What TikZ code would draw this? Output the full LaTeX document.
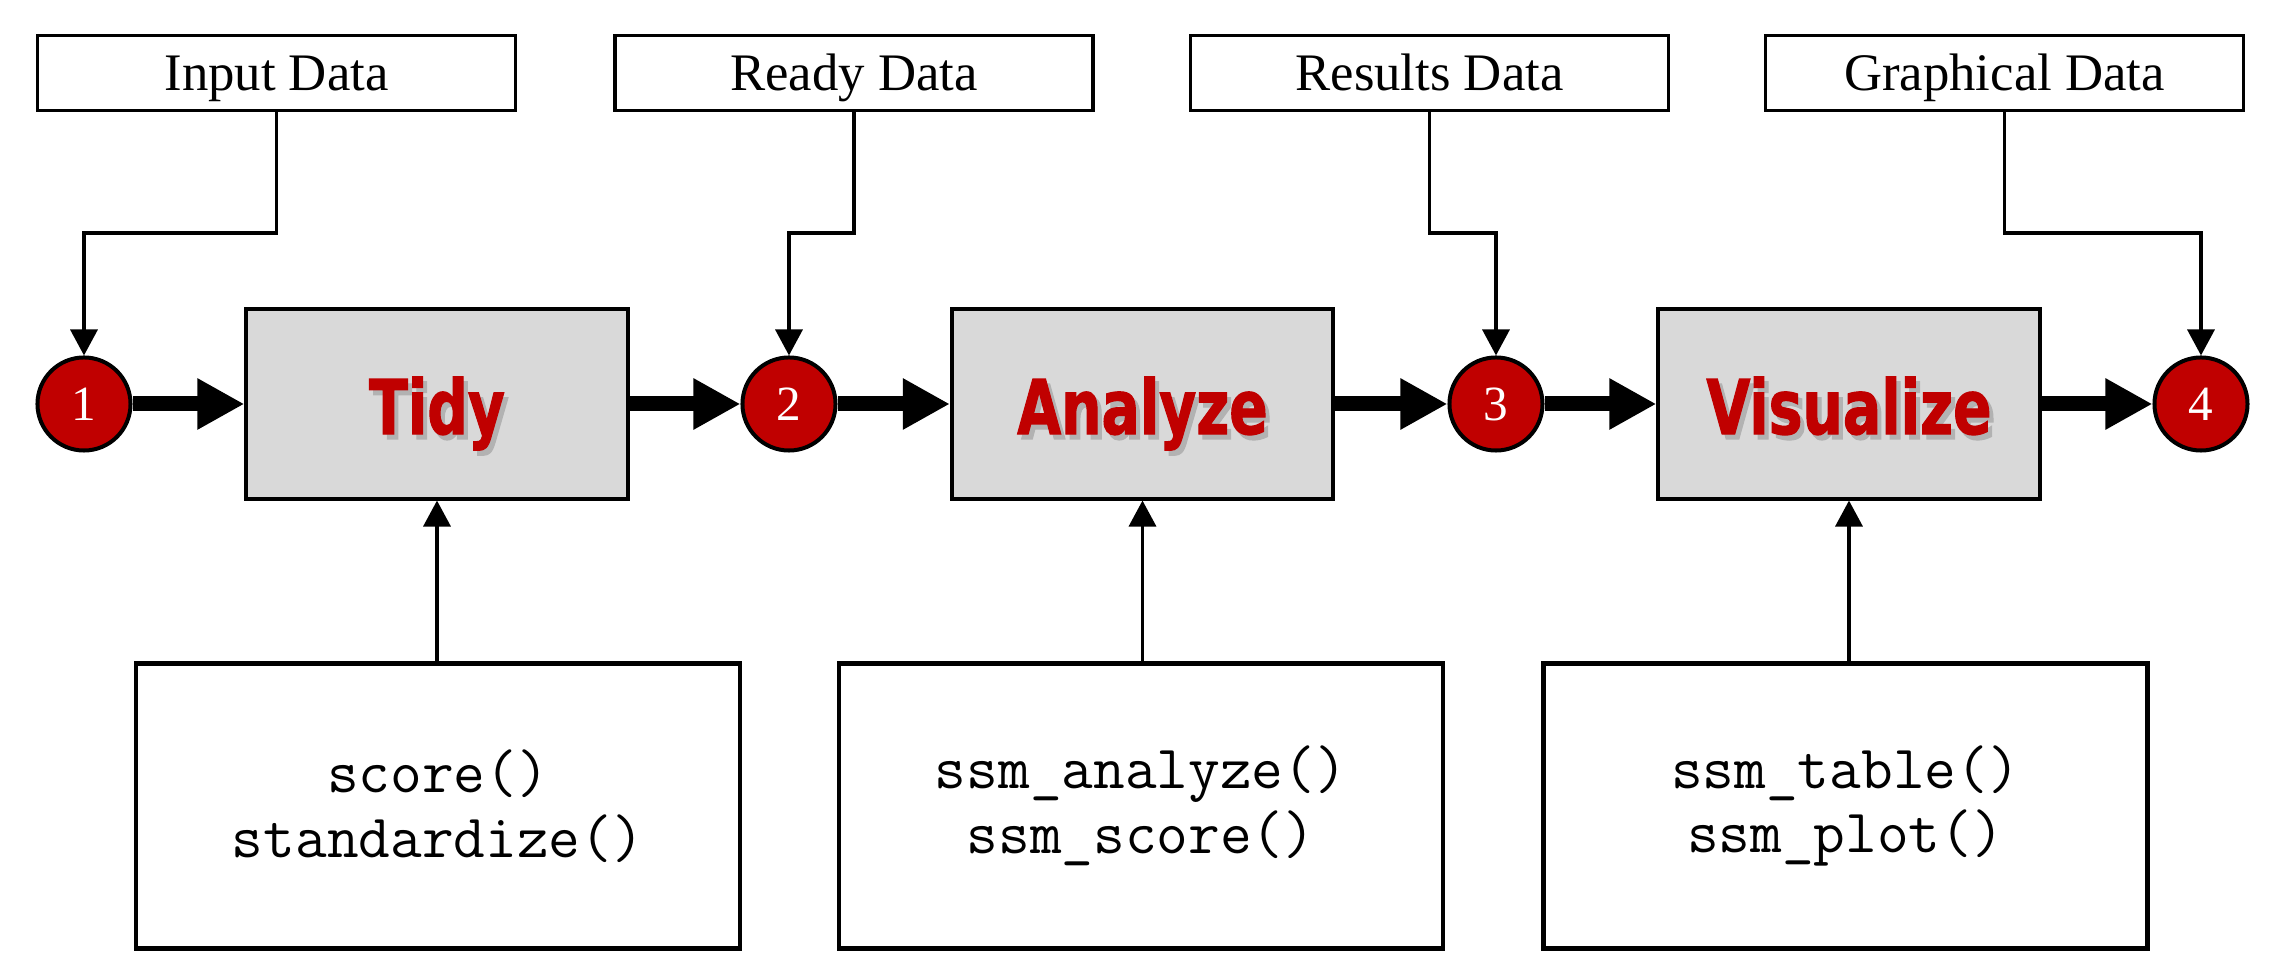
\documentclass[tikz,border=0pt]{standalone}
\usepackage{fontspec}
\setmainfont{Liberation Serif}
\newfontfamily\procfont{DejaVu Sans Condensed Bold}[FakeBold=1.6]
\usetikzlibrary{arrows.meta}
\definecolor{dred}{HTML}{C00000}
\definecolor{boxgray}{HTML}{D9D9D9}
\tikzset{
 labelbox/.style={draw, line width=0.035cm, minimum width=4.78cm, minimum height=0.75cm, inner sep=0pt, text height=0.35cm, text depth=0pt, font=\fontsize{15}{18}\selectfont},
 stepnum/.style={circle, draw, line width=0.04cm, fill=dred, text=white, minimum size=0.93cm, inner sep=0pt, text height=0.33cm, text depth=0pt, font=\fontsize{14}{16}\selectfont},
 procbox/.style={draw, line width=0.04cm, fill=boxgray, minimum width=3.81cm, minimum height=1.89cm, inner sep=0pt, text height=0.6cm, text depth=0pt, text=dred, font=\procfont\fontsize{19.5}{22}\selectfont},
 funcbox/.style={draw, line width=0.045cm, minimum width=6.04cm, minimum height=2.85cm, inner sep=0pt, align=center, font=\ttfamily\fontsize{17.5}{18.4}\selectfont},
 thinarr/.style={line width=0.035cm, -{Triangle[length=0.26cm,width=0.27cm]}},
 thickarr/.style={line width=0.15cm, -{Triangle[length=0.47cm,width=0.48cm]}},
}
\newcommand{\shadowtext}[1]{\scalebox{0.92}[1.1]{\makebox[0pt][l]{\hspace{0.045cm}\raisebox{-0.045cm}{\color{black!30}#1}}#1}}
\begin{document}
\begin{tikzpicture}[x=0.01cm,y=-0.01cm]
\useasboundingbox (0,0) rectangle (2271,980);
\coordinate (bend) at (0,233);
% label boxes
\node[labelbox] (lab1) at (276.5,73) {Input Data};
\node[labelbox] (lab2) at (854,73) {Ready Data};
\node[labelbox] (lab3) at (1429.5,73) {Results Data};
\node[labelbox] (lab4) at (2004.5,73) {Graphical Data};
% step circles
\node[stepnum] (c1) at (84,404) {1};
\node[stepnum] (c2) at (789,404) {2};
\node[stepnum] (c3) at (1496,404) {3};
\node[stepnum] (c4) at (2201,404) {4};
% process boxes
\node[procbox] (p1) at (437,404) {\shadowtext{Tidy}};
\node[procbox] (p2) at (1142.5,404) {\shadowtext{Analyze}};
\node[procbox] (p3) at (1849,404) {\shadowtext{Visualize}};
% function boxes
\node[funcbox] (f1) at (438,806) {score()\\standardize()};
\node[funcbox] (f2) at (1141,806) {ssm\_analyze()\\ssm\_score()};
\node[funcbox] (f3) at (1845.5,806) {ssm\_table()\\ssm\_plot()};
% connectors from labels
\draw[thinarr] (lab1.south) |- (c1.north |- bend) -- (c1.north);
\draw[thinarr] (lab2.south) |- (c2.north |- bend) -- (c2.north);
\draw[thinarr] (lab3.south) |- (c3.north |- bend) -- (c3.north);
\draw[thinarr] (lab4.south) |- (c4.north |- bend) -- (c4.north);
% thick flow
\draw[thickarr] (c1.east) -- (p1.west);
\draw[thickarr] (p1.east) -- (c2.west);
\draw[thickarr] (c2.east) -- (p2.west);
\draw[thickarr] (p2.east) -- (c3.west);
\draw[thickarr] (c3.east) -- (p3.west);
\draw[thickarr] (p3.east) -- (c4.west);
% function arrows
\draw[thinarr] (f1.north -| p1.south) -- (p1.south);
\draw[thinarr] (f2.north -| p2.south) -- (p2.south);
\draw[thinarr] (f3.north -| p3.south) -- (p3.south);
\end{tikzpicture}
\end{document}
